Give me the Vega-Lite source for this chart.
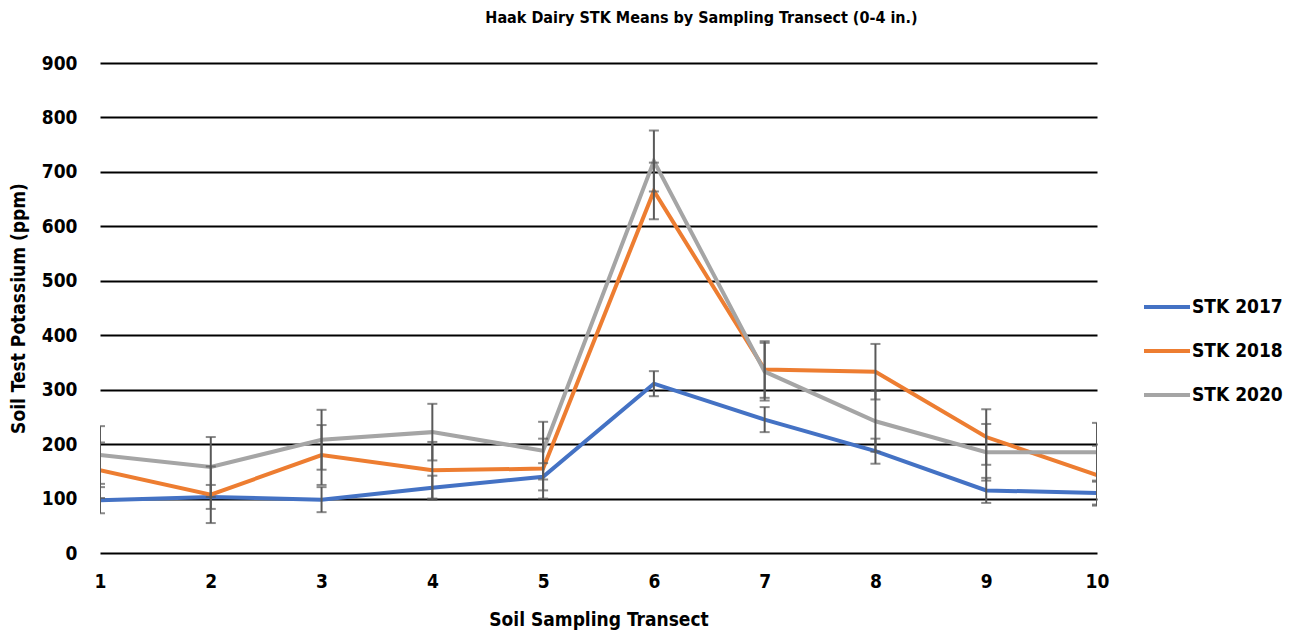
{
  "$schema": "https://vega.github.io/schema/vega-lite/v6.json",
  "width": 997,
  "height": 490,
  "autosize": {"type": "none"},
  "padding": {"left": 100, "top": 63, "right": 202, "bottom": 84},
  "background": "white",
  "config": {
    "view": {"stroke": null},
    "font": "DejaVu Sans Condensed"
  },
  "title": {
    "text": "Haak  Dairy STK Means by Sampling Transect (0-4 in.)",
    "font": "DejaVu Sans Condensed",
    "fontSize": 16,
    "fontWeight": "bold",
    "color": "#000000",
    "anchor": "middle",
    "dx": 103,
    "offset": 28
  },
  "data": {
    "values": [
      {"transect": 1, "series": "STK 2017", "mean": 97, "lo": 73, "hi": 121},
      {"transect": 2, "series": "STK 2017", "mean": 103, "lo": 81, "hi": 125},
      {"transect": 3, "series": "STK 2017", "mean": 98, "lo": 75, "hi": 121},
      {"transect": 4, "series": "STK 2017", "mean": 120, "lo": 98, "hi": 142},
      {"transect": 5, "series": "STK 2017", "mean": 140, "lo": 115, "hi": 165},
      {"transect": 6, "series": "STK 2017", "mean": 311, "lo": 288, "hi": 334},
      {"transect": 7, "series": "STK 2017", "mean": 245, "lo": 222, "hi": 268},
      {"transect": 8, "series": "STK 2017", "mean": 187, "lo": 164, "hi": 210},
      {"transect": 9, "series": "STK 2017", "mean": 115, "lo": 92, "hi": 138},
      {"transect": 10, "series": "STK 2017", "mean": 110, "lo": 87, "hi": 133},
      {"transect": 1, "series": "STK 2018", "mean": 152, "lo": 101, "hi": 203},
      {"transect": 2, "series": "STK 2018", "mean": 107, "lo": 55, "hi": 159},
      {"transect": 3, "series": "STK 2018", "mean": 180, "lo": 125, "hi": 235},
      {"transect": 4, "series": "STK 2018", "mean": 152, "lo": 100, "hi": 204},
      {"transect": 5, "series": "STK 2018", "mean": 155, "lo": 100, "hi": 210},
      {"transect": 6, "series": "STK 2018", "mean": 665, "lo": 613, "hi": 717},
      {"transect": 7, "series": "STK 2018", "mean": 337, "lo": 285, "hi": 389},
      {"transect": 8, "series": "STK 2018", "mean": 333, "lo": 282, "hi": 384},
      {"transect": 9, "series": "STK 2018", "mean": 213, "lo": 162, "hi": 264},
      {"transect": 10, "series": "STK 2018", "mean": 143, "lo": 89, "hi": 197},
      {"transect": 1, "series": "STK 2020", "mean": 180, "lo": 127, "hi": 233},
      {"transect": 2, "series": "STK 2020", "mean": 158, "lo": 103, "hi": 213},
      {"transect": 3, "series": "STK 2020", "mean": 208, "lo": 153, "hi": 263},
      {"transect": 4, "series": "STK 2020", "mean": 222, "lo": 170, "hi": 274},
      {"transect": 5, "series": "STK 2020", "mean": 188, "lo": 135, "hi": 241},
      {"transect": 6, "series": "STK 2020", "mean": 720, "lo": 664, "hi": 776},
      {"transect": 7, "series": "STK 2020", "mean": 333, "lo": 280, "hi": 386},
      {"transect": 8, "series": "STK 2020", "mean": 242, "lo": 186, "hi": 298},
      {"transect": 9, "series": "STK 2020", "mean": 185, "lo": 133, "hi": 237},
      {"transect": 10, "series": "STK 2020", "mean": 185, "lo": 131, "hi": 239}
    ]
  },
  "encoding": {
    "x": {
      "field": "transect",
      "type": "quantitative",
      "scale": {"domain": [1, 10], "nice": false, "zero": false},
      "axis": {
        "title": "Soil Sampling Transect",
        "values": [1, 2, 3, 4, 5, 6, 7, 8, 9, 10],
        "format": "d",
        "grid": false,
        "domain": false,
        "ticks": false,
        "labelFlush": false,
        "labelFont": "DejaVu Sans Condensed",
        "labelFontSize": 19,
        "labelFontWeight": "bold",
        "labelColor": "#000000",
        "labelPadding": 19,
        "titleFont": "DejaVu Sans Condensed",
        "titleFontSize": 19,
        "titleFontWeight": "bold",
        "titleColor": "#000000",
        "titlePadding": 19
      }
    }
  },
  "layer": [
    {
      "mark": {"type": "line", "strokeWidth": 4, "clip": true},
      "encoding": {
        "y": {
          "field": "mean",
          "type": "quantitative",
          "scale": {"domain": [0, 900], "nice": false},
          "axis": {
            "title": "Soil Test Potassium (ppm)",
            "values": [0, 100, 200, 300, 400, 500, 600, 700, 800, 900],
            "grid": true,
            "gridColor": "#000000",
            "gridWidth": 2,
            "gridOpacity": 1,
            "domain": false,
            "ticks": false,
            "labelFont": "DejaVu Sans Condensed",
            "labelFontSize": 19,
            "labelFontWeight": "bold",
            "labelColor": "#000000",
            "labelPadding": 23,
            "titleFont": "DejaVu Sans Condensed",
            "titleFontSize": 19,
            "titleFontWeight": "bold",
            "titleColor": "#000000",
            "titlePadding": 13
          }
        },
        "color": {
          "field": "series",
          "type": "nominal",
          "scale": {
            "domain": ["STK 2017", "STK 2018", "STK 2020"],
            "range": ["#4472C4", "#ED7D31", "#A5A5A5"]
          },
          "legend": {
            "title": null,
            "orient": "none",
            "legendX": 1042,
            "legendY": 219,
            "symbolType": "stroke",
            "symbolSize": 2116,
            "symbolStrokeWidth": 4,
            "rowPadding": 9,
            "labelOffset": 0,
            "labelFont": "DejaVu Sans Condensed",
            "labelFontSize": 19,
            "labelFontWeight": "bold",
            "labelColor": "#000000"
          }
        }
      }
    },
    {
      "mark": {"type": "rule", "color": "#595959", "strokeWidth": 2, "clip": true},
      "encoding": {
        "y": {"field": "lo", "type": "quantitative"},
        "y2": {"field": "hi"}
      }
    },
    {
      "mark": {"type": "tick", "color": "#595959", "orient": "horizontal", "size": 10, "thickness": 2, "clip": true},
      "encoding": {
        "y": {"field": "lo", "type": "quantitative"}
      }
    },
    {
      "mark": {"type": "tick", "color": "#595959", "orient": "horizontal", "size": 10, "thickness": 2, "clip": true},
      "encoding": {
        "y": {"field": "hi", "type": "quantitative"}
      }
    }
  ]
}
